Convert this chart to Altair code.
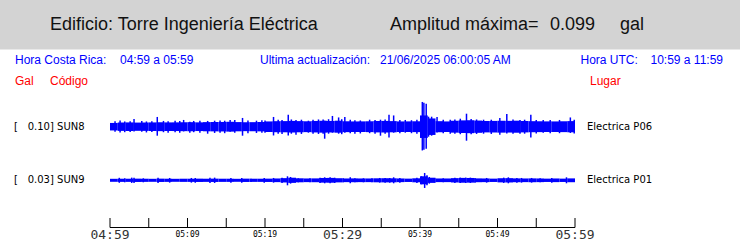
import altair as alt
import pandas as pd

# ---------------- data ----------------
# time axis: minutes after 04:59 (Costa Rica time)
tick_minutes = [0, 5, 10, 15, 20, 25, 30, 35, 40, 45, 50, 55, 60]
label_minutes = [0, 10, 20, 30, 40, 50, 60]
label_texts = ["04:59", "05:09", "05:19", "05:29", "05:39", "05:49", "05:59"]
label_major = [1, 0, 0, 1, 0, 0, 1]

stations = ["SUN8", "SUN9"]
places = ["Electrica P06", "Electrica P01"]
full_scale = [0.10, 0.03]          # gal, shown as "[ 0.10]" / "[ 0.03]"

core_minutes = list(range(60))
# half-width of the dense noise band per minute (gal)
sun8_core = [0.0150, 0.0168, 0.0172, 0.0165, 0.0168, 0.0172, 0.0178, 0.0172, 0.0174, 0.0178,
             0.0182, 0.0174, 0.0184, 0.0187, 0.0190, 0.0197, 0.0185, 0.0178, 0.0182, 0.0187,
             0.0211, 0.0221, 0.0224, 0.0232, 0.0224, 0.0217, 0.0230, 0.0238, 0.0230, 0.0240,
             0.0217, 0.0211, 0.0213, 0.0217, 0.0228, 0.0232, 0.0224, 0.0211, 0.0213, 0.0217,
             0.0450, 0.0330, 0.0221, 0.0211, 0.0238, 0.0253, 0.0259, 0.0245, 0.0228, 0.0232,
             0.0238, 0.0234, 0.0241, 0.0228, 0.0221, 0.0217, 0.0213, 0.0211, 0.0217, 0.0224]
sun9_core = [0.0018, 0.0019, 0.0019, 0.0020, 0.0019, 0.0018, 0.0020, 0.0019, 0.0018, 0.0019,
             0.0019, 0.0020, 0.0019, 0.0020, 0.0019, 0.0019, 0.0018, 0.0020, 0.0019, 0.0019,
             0.0020, 0.0022, 0.0026, 0.0031, 0.0024, 0.0022, 0.0023, 0.0028, 0.0029, 0.0025,
             0.0022, 0.0023, 0.0022, 0.0022, 0.0024, 0.0025, 0.0024, 0.0022, 0.0020, 0.0024,
             0.0048, 0.0031, 0.0022, 0.0022, 0.0026, 0.0029, 0.0028, 0.0023, 0.0022, 0.0020,
             0.0025, 0.0026, 0.0023, 0.0022, 0.0023, 0.0022, 0.0020, 0.0022, 0.0020, 0.0023]

# individual peaks: minute, upward and downward excursion (gal)
sun8_spike_t = [1.3, 3.1, 6.1, 9.5, 10.3, 12.6, 15.5, 17.1, 20.0, 21.1, 22.2, 23.0, 24.0,
                25.6, 27.5, 27.7, 28.7, 29.5, 30.3, 32.3, 34.9, 36.0, 36.6, 38.1, 40.3,
                40.5, 40.8, 41.1, 42.2, 44.5, 46.0, 47.3, 50.3, 51.2, 52.9, 54.3, 55.9, 59.4,
                0.65, 1.9, 2.6, 4.1, 4.7, 5.4, 6.9, 7.5, 8.4, 9.0, 10.8, 11.6, 13.5, 14.2,
                14.8, 16.1, 17.8, 18.9, 19.6, 21.7, 23.4, 24.7, 26.2, 26.9, 28.2, 29.9,
                31.0, 31.6, 33.5, 34.2, 35.5, 37.4, 38.9, 39.6, 41.5, 43.0, 43.9, 45.2,
                46.6, 48.2, 49.2, 52.0, 53.5, 55.0, 56.8, 58.0, 59.9]
sun8_spike_up = [0.025, 0.031, 0.039, 0.027, 0.020, 0.023, 0.027, 0.035, 0.025, 0.039, 0.027,
                 0.048, 0.027, 0.024, 0.029, 0.024, 0.043, 0.037, 0.039, 0.025, 0.028, 0.048,
                 0.045, 0.027, 0.099, 0.096, 0.092, 0.040, 0.039, 0.029, 0.052, 0.029, 0.035,
                 0.051, 0.027, 0.048, 0.027, 0.037,
                 0.022, 0.021, 0.022, 0.023, 0.021, 0.022, 0.023, 0.022, 0.024, 0.023, 0.023,
                 0.024, 0.024, 0.025, 0.024, 0.027, 0.025, 0.024, 0.026, 0.028, 0.029, 0.028,
                 0.028, 0.029, 0.030, 0.030, 0.028, 0.026, 0.028, 0.027, 0.029, 0.027, 0.026,
                 0.028, 0.040, 0.028, 0.028, 0.032, 0.031, 0.028, 0.028, 0.029, 0.028, 0.027,
                 0.027, 0.027, 0.028]
sun8_spike_dn = [0.023, 0.019, 0.036, 0.019, 0.024, 0.028, 0.020, 0.036, 0.024, 0.035, 0.029,
                 0.035, 0.032, 0.024, 0.028, 0.048, 0.024, 0.028, 0.024, 0.027, 0.036, 0.043,
                 0.024, 0.024, 0.095, 0.092, 0.088, 0.040, 0.023, 0.028, 0.056, 0.029, 0.032,
                 0.027, 0.028, 0.043, 0.024, 0.025,
                 0.020, 0.022, 0.021, 0.020, 0.023, 0.021, 0.022, 0.024, 0.022, 0.024, 0.022,
                 0.024, 0.025, 0.024, 0.026, 0.024, 0.026, 0.025, 0.024, 0.028, 0.028, 0.029,
                 0.028, 0.029, 0.028, 0.030, 0.026, 0.028, 0.026, 0.028, 0.028, 0.026, 0.026,
                 0.028, 0.036, 0.026, 0.028, 0.030, 0.030, 0.028, 0.029, 0.028, 0.028, 0.027,
                 0.026, 0.026, 0.027]

sun9_spike_t = [1.2, 1.9, 2.8, 3.1, 4.3, 6.2, 7.7, 10.5, 11.0, 12.9, 13.5, 15.6, 17.0, 18.2,
                19.9, 21.1, 22.2, 22.9, 23.3, 24.3, 25.8, 27.1, 27.7, 28.4, 29.0, 30.1, 31.0,
                31.6, 32.7, 33.8, 34.8, 35.5, 36.1, 36.6, 37.4, 39.6, 40.2, 40.6, 40.9, 41.2,
                41.9, 43.0, 44.5, 45.2, 45.9, 46.5, 47.1, 48.6, 50.8, 51.4, 52.5, 53.1, 54.4,
                55.5, 57.0, 58.9]
sun9_spike_up = [0.0030, 0.0024, 0.0032, 0.0032, 0.0024, 0.0032, 0.0028, 0.0028, 0.0028, 0.0032,
                 0.0032, 0.0028, 0.0028, 0.0020, 0.0028, 0.0028, 0.0032, 0.0048, 0.0040, 0.0024,
                 0.0024, 0.0032, 0.0036, 0.0036, 0.0032, 0.0024, 0.0036, 0.0024, 0.0024, 0.0024,
                 0.0028, 0.0028, 0.0028, 0.0036, 0.0028, 0.0032, 0.0048, 0.0088, 0.0060, 0.0040,
                 0.0024, 0.0024, 0.0032, 0.0032, 0.0032, 0.0032, 0.0028, 0.0028, 0.0032, 0.0036,
                 0.0028, 0.0028, 0.0028, 0.0024, 0.0028, 0.0036]
sun9_spike_dn = [0.0030, 0.0024, 0.0032, 0.0032, 0.0024, 0.0032, 0.0028, 0.0028, 0.0028, 0.0032,
                 0.0032, 0.0028, 0.0028, 0.0020, 0.0028, 0.0028, 0.0032, 0.0060, 0.0040, 0.0024,
                 0.0024, 0.0032, 0.0036, 0.0036, 0.0032, 0.0024, 0.0036, 0.0024, 0.0024, 0.0024,
                 0.0028, 0.0028, 0.0028, 0.0036, 0.0028, 0.0032, 0.0048, 0.0092, 0.0060, 0.0040,
                 0.0024, 0.0024, 0.0032, 0.0032, 0.0032, 0.0032, 0.0028, 0.0028, 0.0032, 0.0036,
                 0.0028, 0.0028, 0.0028, 0.0024, 0.0028, 0.0036]

# ---------------- layout ----------------
LEFT, TOP, W, H = 110, 0, 465, 227
UNIT_PX = 25.0                     # pixels per full-scale unit
CENTER_PX = [126.7, 180.3]         # trace centre lines (from top)
offsets = [-(c - CENTER_PX[0]) / UNIT_PX for c in CENTER_PX]
y_dom = [-(H - CENTER_PX[0]) / UNIT_PX, CENTER_PX[0] / UNIT_PX]
BLUE = "#0000ff"

xs = alt.Scale(domain=[0, 60], nice=False, zero=False)
ys = alt.Scale(domain=y_dom, nice=False, zero=False)

core_rows, spike_rows = [], []
for i, (core, st, su, sd) in enumerate([
        (sun8_core, sun8_spike_t, sun8_spike_up, sun8_spike_dn),
        (sun9_core, sun9_spike_t, sun9_spike_up, sun9_spike_dn)]):
    fs, off = full_scale[i], offsets[i]
    for m, a in zip(core_minutes, core):
        core_rows.append({"t0": m, "t1": m + 1, "lo": off - a / fs, "hi": off + a / fs})
    for t, u, d in zip(st, su, sd):
        spike_rows.append({"t": t, "lo": off - d / fs, "hi": off + u / fs})
core_df = pd.DataFrame(core_rows)
spike_df = pd.DataFrame(spike_rows)
tick_df = pd.DataFrame({"t": tick_minutes})
span_df = pd.DataFrame({"t0": [tick_minutes[0]], "t1": [tick_minutes[-1]]})
lab_df = pd.DataFrame({"t": label_minutes, "txt": label_texts, "major": label_major})
major_df = lab_df[lab_df["major"] == 1]
minor_df = lab_df[lab_df["major"] == 0]
dummy = pd.DataFrame({"a": [0]})


def txt(s, x, y, size, color="black", font="Liberation Sans", align="left", baseline="alphabetic"):
    return alt.Chart(dummy).mark_text(
        text=s, fontSize=size, color=color, font=font, align=align, baseline=baseline
    ).encode(x=alt.value(x - LEFT), y=alt.value(y - TOP))


header = alt.Chart(dummy).mark_rect(color="#d3d3d3").encode(
    x=alt.value(-LEFT), x2=alt.value(740 - LEFT), y=alt.value(0), y2=alt.value(49.5))

texts = [
    txt("Edificio: Torre Ingeniería Eléctrica", 50, 30, 18, "#111111"),
    txt("Amplitud máxima=", 390, 30, 18, "#111111"),
    txt("0.099", 550, 30, 18, "#111111"),
    txt("gal", 620, 30, 18, "#111111"),
    txt("Hora Costa Rica:", 15, 64.3, 12, BLUE),
    txt("04:59 a 05:59", 120, 64.3, 12, BLUE),
    txt("Ultima actualización:", 260, 64.3, 12, BLUE),
    txt("21/06/2025 06:00:05 AM", 380, 64.3, 12, BLUE),
    txt("Hora UTC:", 580.5, 64.3, 12, BLUE),
    txt("10:59 a 11:59", 650.5, 64.3, 12, BLUE),
    txt("Gal", 15, 85, 12, "red"),
    txt("Código", 50, 85, 12, "red"),
    txt("Lugar", 590, 85, 12, "red"),
]
for i in range(2):
    cy = CENTER_PX[i]
    texts.append(txt("[", 14, cy, 10, font="DejaVu Sans", baseline="middle"))
    texts.append(txt(f"{full_scale[i]:.2f}] {stations[i]}", 27.7, cy, 10,
                     font="DejaVu Sans", baseline="middle"))
    texts.append(txt(places[i], 587, cy, 10, font="DejaVu Sans", baseline="middle"))

core = alt.Chart(core_df).mark_rect(color=BLUE).encode(
    x=alt.X("t0:Q", scale=xs, axis=None), x2="t1:Q",
    y=alt.Y("lo:Q", scale=ys, axis=None), y2="hi:Q")

spikes = alt.Chart(spike_df).mark_rule(color=BLUE, strokeWidth=1.5).encode(
    x=alt.X("t:Q", scale=xs, axis=None),
    y=alt.Y("lo:Q", scale=ys, axis=None), y2="hi:Q")

axis_line = alt.Chart(span_df).mark_rule(color="black", strokeWidth=1).encode(
    x=alt.X("t0:Q", scale=xs, axis=None), x2="t1:Q", y=alt.value(H + 0.5))

ticks = alt.Chart(tick_df).mark_rule(color="black", strokeWidth=1).encode(
    x=alt.X("t:Q", scale=xs, axis=None), y=alt.value(H - 9), y2=alt.value(H + 0.5))

big_labels = alt.Chart(major_df).mark_text(
    font="DejaVu Sans Mono", fontSize=13, fontWeight=300, baseline="alphabetic",
    align="center", color="#333333"
).encode(x=alt.X("t:Q", scale=xs, axis=None), y=alt.value(238.6 - TOP), text="txt:N")

small_labels = alt.Chart(minor_df).mark_text(
    font="DejaVu Sans Mono", fontSize=8, baseline="alphabetic", align="center", color="black"
).encode(x=alt.X("t:Q", scale=xs, axis=None), y=alt.value(236.5 - TOP), text="txt:N")

chart = alt.layer(
    header, *texts, core, spikes, axis_line, ticks, big_labels, small_labels
).properties(
    width=W, height=H, autosize="none", background="white",
    padding={"left": LEFT, "top": TOP, "right": 740 - LEFT - W, "bottom": 241 - TOP - H},
).configure_view(strokeWidth=0)

chart.save("out.html", embed_options={"renderer": "svg", "actions": False})
